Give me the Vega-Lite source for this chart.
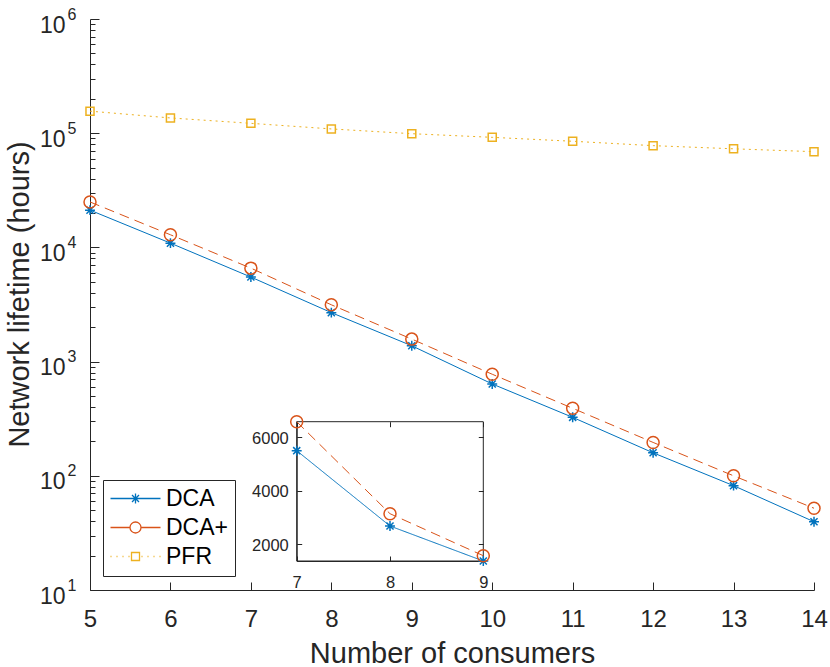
{
  "$schema": "https://vega.github.io/schema/vega-lite/v6.json",
  "width": 724,
  "height": 571,
  "autosize": "none",
  "padding": {"left": 90, "top": 19, "right": 16, "bottom": 77},
  "background": "white",
  "config": {
    "view": {"stroke": null},
    "font": "Liberation Sans",
    "axis": {
      "grid": false,
      "domainColor": "#262626",
      "tickColor": "#262626",
      "labelColor": "#262626",
      "titleColor": "#262626",
      "titleFontWeight": "normal",
      "domainWidth": 1,
      "tickWidth": 1,
      "labelFlush": false,
      "labelOverlap": false
    }
  },
  "datasets": {
    "lifetime": [
      {"n": 5, "series": "DCA", "hours": 21200},
      {"n": 6, "series": "DCA", "hours": 10900},
      {"n": 7, "series": "DCA", "hours": 5500},
      {"n": 8, "series": "DCA", "hours": 2684},
      {"n": 9, "series": "DCA", "hours": 1376},
      {"n": 10, "series": "DCA", "hours": 637},
      {"n": 11, "series": "DCA", "hours": 325},
      {"n": 12, "series": "DCA", "hours": 159},
      {"n": 13, "series": "DCA", "hours": 82},
      {"n": 14, "series": "DCA", "hours": 39.6},
      {"n": 5, "series": "DCA+", "hours": 25000},
      {"n": 6, "series": "DCA+", "hours": 12900},
      {"n": 7, "series": "DCA+", "hours": 6583},
      {"n": 8, "series": "DCA+", "hours": 3144},
      {"n": 9, "series": "DCA+", "hours": 1574},
      {"n": 10, "series": "DCA+", "hours": 775},
      {"n": 11, "series": "DCA+", "hours": 390},
      {"n": 12, "series": "DCA+", "hours": 196},
      {"n": 13, "series": "DCA+", "hours": 100},
      {"n": 14, "series": "DCA+", "hours": 52},
      {"n": 5, "series": "PFR", "hours": 156000},
      {"n": 6, "series": "PFR", "hours": 136000},
      {"n": 7, "series": "PFR", "hours": 122000},
      {"n": 8, "series": "PFR", "hours": 109000},
      {"n": 9, "series": "PFR", "hours": 99000},
      {"n": 10, "series": "PFR", "hours": 92000},
      {"n": 11, "series": "PFR", "hours": 85000},
      {"n": 12, "series": "PFR", "hours": 77800},
      {"n": 13, "series": "PFR", "hours": 73000},
      {"n": 14, "series": "PFR", "hours": 68900}
    ]
  },
  "data": {"name": "lifetime"},
  "layer": [
    {
      "layer": [
        {
          "transform": [{"filter": "datum.series === 'DCA'"}],
          "mark": {"type": "line", "strokeWidth": 1, "color": "#0072BD"},
          "encoding": {
            "x": {"field": "n", "type": "quantitative", "scale": {"domain": [5, 14], "nice": false, "zero": false}, "axis": null},
            "y": {
              "field": "hours", "type": "quantitative",
              "scale": {"type": "log", "domain": [10, 1000000], "nice": false},
              "axis": {
                "orient": "left",
                "values": [10, 100, 1000, 10000, 100000, 1000000],
                "domain": false,
                "ticks": false,
                "tickSize": 0,
                "labelOverlap": false,
                "labelExpr": "'' + round(log(datum.value)/LN10)",
                "labelFontSize": 16,
                "labelAlign": "left",
                "labelBaseline": "alphabetic",
                "labelOffset": 0,
                "labelPadding": 23,
                "title": null
              }
            }
          }
        },
        {
          "transform": [{"filter": "datum.series === 'DCA+'"}],
          "mark": {"type": "line", "strokeWidth": 1, "color": "#D95319", "strokeDash": [10, 6]},
          "encoding": {
            "x": {"field": "n", "type": "quantitative", "scale": {"domain": [5, 14], "nice": false, "zero": false}, "axis": null},
            "y": {"field": "hours", "type": "quantitative", "scale": {"type": "log", "domain": [10, 1000000], "nice": false}, "axis": null}
          }
        },
        {
          "transform": [{"filter": "datum.series === 'PFR'"}],
          "mark": {"type": "line", "strokeWidth": 1, "color": "#EDB120", "strokeDash": [2, 4]},
          "encoding": {
            "x": {"field": "n", "type": "quantitative", "scale": {"domain": [5, 14], "nice": false, "zero": false}, "axis": null},
            "y": {"field": "hours", "type": "quantitative", "scale": {"type": "log", "domain": [10, 1000000], "nice": false}, "axis": null}
          }
        },
        {
          "mark": {"type": "point", "filled": false, "strokeWidth": 1.5, "size": 144, "opacity": 1},
          "encoding": {
            "x": {
              "field": "n", "type": "quantitative",
              "scale": {"domain": [5, 14], "nice": false, "zero": false},
              "axis": {
                "orient": "bottom",
                "values": [5, 6, 7, 8, 9, 10, 11, 12, 13, 14],
                "format": "d",
                "tickSize": -8,
                "labelOverlap": false,
                "labelFontSize": 24,
                "labelBaseline": "alphabetic",
                "labelPadding": 44,
                "title": "Number of consumers",
                "titleFontSize": 29,
                "titleBaseline": "alphabetic",
                "titleY": 72
              }
            },
            "y": {
              "field": "hours", "type": "quantitative",
              "scale": {"type": "log", "domain": [10, 1000000], "nice": false},
              "axis": {
                "orient": "left",
                "values": [10, 20, 30, 40, 50, 60, 70, 80, 90, 100, 200, 300, 400, 500, 600, 700, 800, 900, 1000, 2000, 3000, 4000, 5000, 6000, 7000, 8000, 9000, 10000, 20000, 30000, 40000, 50000, 60000, 70000, 80000, 90000, 100000, 200000, 300000, 400000, 500000, 600000, 700000, 800000, 900000, 1000000],
                "tickSize": {"condition": {"test": "abs(log(datum.value)/LN10 - round(log(datum.value)/LN10)) < 0.001", "value": -9}, "value": -5},
                "labelOverlap": false,
                "labelExpr": "abs(log(datum.value)/LN10 - round(log(datum.value)/LN10)) < 0.001 ? '10' : ''",
                "labelFontSize": 23,
                "labelAlign": "right",
                "labelBaseline": "alphabetic",
                "labelOffset": 13,
                "labelPadding": 34,
                "title": "Network lifetime (hours)",
                "titleFontSize": 29,
                "titleAngle": -90,
                "titleAlign": "center",
                "titleBaseline": "alphabetic",
                "titleX": -62,
                "titleY": 275
              }
            },
            "color": {
              "field": "series", "type": "nominal", "legend": null,
              "scale": {"domain": ["DCA", "DCA+", "PFR"], "range": ["#0072BD", "#D95319", "#EDB120"]}
            },
            "shape": {
              "field": "series", "type": "nominal", "legend": null,
              "scale": {
                "domain": ["DCA", "DCA+", "PFR"],
                "range": [
                  "M-0.83,0H0.83M0,-0.83V0.83M-0.59,-0.59L0.59,0.59M-0.59,0.59L0.59,-0.59",
                  "M1,0A1,1 0 1,1 -1,0A1,1 0 1,1 1,0Z",
                  "M-0.67,-0.67H0.67V0.67H-0.67Z"
                ]
              }
            }
          }
        },
        {
          "mark": {"type": "point", "filled": false, "strokeWidth": 1.3, "size": 400, "opacity": 0},
          "encoding": {
            "x": {"field": "n", "type": "quantitative", "scale": {"domain": [5, 14], "nice": false, "zero": false}, "axis": null},
            "y": {"field": "hours", "type": "quantitative", "scale": {"type": "log", "domain": [10, 1000000], "nice": false}, "axis": null},
            "color": {
              "field": "series", "type": "nominal",
              "scale": {"domain": ["DCA", "DCA+", "PFR"], "range": ["#0072BD", "#D95319", "#EDB120"]},
              "legend": {
                "orient": "none", "legendX": 13, "legendY": 461, "title": null,
                "strokeColor": "#262626", "fillColor": "white", "padding": 7,
                "symbolSize": 400, "symbolStrokeWidth": 1.3, "symbolOpacity": 1, "symbolOffset": 14,
                "labelFontSize": 23, "labelColor": "#000000", "labelOffset": 19, "rowPadding": 5
              }
            },
            "shape": {
              "field": "series", "type": "nominal",
              "scale": {
                "domain": ["DCA", "DCA+", "PFR"],
                "range": [
                  "M-2.5,0H2.5M0,-0.5V0.5M-0.35,-0.35L0.35,0.35M-0.35,0.35L0.35,-0.35",
                  "M-2.5,0H-0.55M0.55,0H2.5M0.55,0A0.55,0.55 0 1,1 -0.55,0A0.55,0.55 0 1,1 0.55,0Z",
                  "M-2.5,0H-2.4M-1.9,0H-1.8M-1.3,0H-1.2M-0.7,0H-0.6M0.6,0H0.7M1.2,0H1.3M1.8,0H1.9M2.4,0H2.5M-0.4,-0.4H0.4V0.4H-0.4Z"
                ]
              },
              "legend": {
                "orient": "none", "legendX": 13, "legendY": 461, "title": null,
                "strokeColor": "#262626", "fillColor": "white", "padding": 7,
                "symbolSize": 400, "symbolStrokeWidth": 1.3, "symbolOpacity": 1, "symbolOffset": 14,
                "labelFontSize": 23, "labelColor": "#000000", "labelOffset": 19, "rowPadding": 5
              }
            }
          }
        }
      ],
      "resolve": {
        "axis": {"x": "independent", "y": "independent"},
        "scale": {"color": "independent", "shape": "independent"}
      }
    },
    {
      "transform": [{"filter": "datum.n >= 7 && datum.n <= 9 && datum.series !== 'PFR'"}],
      "layer": [
        {
          "data": {"values": [{"frame": 1}]},
          "mark": {"type": "rect", "fill": null, "stroke": "#262626", "strokeWidth": 1},
          "encoding": {
            "x": {
              "datum": 7, "type": "quantitative",
              "scale": {"domain": [7, 9], "range": [206.7, 393.3], "nice": false, "zero": false},
              "axis": {"orient": "top", "offset": -402.7, "values": [7, 8, 9], "domain": false, "tickSize": -5, "labels": false, "title": null}
            },
            "x2": {"datum": 9},
            "y": {
              "datum": 1376, "type": "quantitative",
              "scale": {"domain": [1376, 6583], "range": [542, 402.7], "nice": false, "zero": false},
              "axis": {"orient": "right", "offset": -330.7, "values": [2000, 4000, 6000], "domain": false, "tickSize": -5, "labels": false, "title": null}
            },
            "y2": {"datum": 6583}
          }
        },
        {
          "mark": {"type": "line", "strokeWidth": 1},
          "encoding": {
            "x": {
              "field": "n", "type": "quantitative",
              "scale": {"domain": [7, 9], "range": [206.7, 393.3], "nice": false, "zero": false},
              "axis": {
                "orient": "bottom",
                "offset": -29,
                "values": [7, 9],
                "format": "d",
                "tickSize": -5,
                "labelOverlap": false,
                "labelFontSize": 16.5,
                "labelBaseline": "alphabetic",
                "labelPadding": 31,
                "title": null
              }
            },
            "y": {
              "field": "hours", "type": "quantitative",
              "scale": {"domain": [1376, 6583], "range": [542, 402.7], "nice": false, "zero": false},
              "axis": {
                "orient": "left",
                "offset": -206.7,
                "values": [2000, 4000, 6000],
                "format": "d",
                "tickSize": -5,
                "labelOverlap": false,
                "labelFontSize": 16.5,
                "labelAlign": "right",
                "labelBaseline": "alphabetic",
                "labelOffset": 6,
                "labelPadding": 13.4,
                "title": null
              }
            },
            "color": {
              "field": "series", "type": "nominal", "legend": null,
              "scale": {"domain": ["DCA", "DCA+", "PFR"], "range": ["#0072BD", "#D95319", "#EDB120"]}
            },
            "strokeDash": {
              "field": "series", "type": "nominal", "legend": null,
              "scale": {"domain": ["DCA", "DCA+", "PFR"], "range": [[1, 0], [10, 6], [2, 4]]}
            }
          }
        },
        {
          "mark": {"type": "point", "filled": false, "strokeWidth": 1.5, "size": 144, "opacity": 1},
          "encoding": {
            "x": {
              "field": "n", "type": "quantitative",
              "scale": {"domain": [7, 9], "range": [206.7, 393.3], "nice": false, "zero": false},
              "axis": {
                "orient": "bottom",
                "offset": -29,
                "values": [8],
                "format": "d",
                "domain": false,
                "tickSize": -5,
                "labelOverlap": false,
                "labelFontSize": 16.5,
                "labelBaseline": "alphabetic",
                "labelPadding": 31,
                "title": null
              }
            },
            "y": {"field": "hours", "type": "quantitative", "scale": {"domain": [1376, 6583], "range": [542, 402.7], "nice": false, "zero": false}, "axis": null},
            "color": {"field": "series", "type": "nominal", "legend": null},
            "shape": {
              "field": "series", "type": "nominal", "legend": null,
              "scale": {
                "domain": ["DCA", "DCA+", "PFR"],
                "range": [
                  "M-0.83,0H0.83M0,-0.83V0.83M-0.59,-0.59L0.59,0.59M-0.59,0.59L0.59,-0.59",
                  "M1,0A1,1 0 1,1 -1,0A1,1 0 1,1 1,0Z",
                  "M-0.67,-0.67H0.67V0.67H-0.67Z"
                ]
              }
            }
          }
        }
      ],
      "resolve": {"axis": {"x": "independent", "y": "independent"}}
    }
  ],
  "resolve": {
    "scale": {"x": "independent", "y": "independent", "color": "independent", "shape": "independent", "strokeDash": "independent"}
  }
}
